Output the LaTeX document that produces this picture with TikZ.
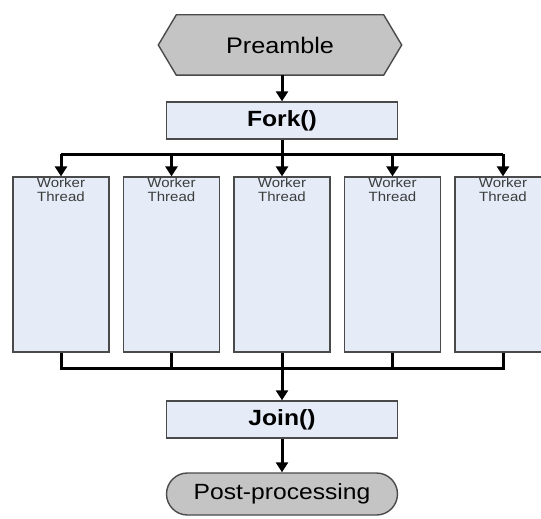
\documentclass[tikz,border=0pt]{standalone}
\usepackage{fontspec}
\setmainfont[FakeStretch=1.12]{Liberation Sans}
\usetikzlibrary{arrows.meta,backgrounds,shapes.misc}
\definecolor{boxfill}{HTML}{E5ECF8}
\definecolor{grayfill}{HTML}{C4C4C4}
\definecolor{edge}{HTML}{4A4A4A}
\definecolor{wtext}{HTML}{3C3C3C}
\tikzset{
  conn/.style={line width=3pt,draw=black},
  arr/.style={conn,-{Triangle[width=12pt,length=10pt]}},
  flowbox/.style={draw=edge,line width=1.4pt,fill=boxfill,minimum width=231pt,minimum height=37pt,inner sep=0pt,font=\bfseries\fontsize{22}{24}\selectfont},
  worker/.style={draw=edge,line width=1.2pt,fill=boxfill,minimum width=96pt,minimum height=175pt,inner sep=0pt},
  wlabel/.style={font=\fontsize{13.4}{14}\selectfont,text=wtext,align=center,anchor=north,inner sep=0pt},
  term/.style={draw=edge,line width=1.4pt,fill=grayfill,rounded rectangle,minimum width=231pt,minimum height=42pt,inner sep=0pt,font=\fontsize{22}{24}\selectfont}
}
\begin{document}
\begin{tikzpicture}[x=1pt,y=-1pt]
\useasboundingbox (0,0) rectangle (541,519);
% Preamble hexagon
\node[minimum width=243pt,minimum height=60pt,inner sep=0pt,font=\fontsize{22.5}{24}\selectfont] (pre) at (280,45) {Preamble};
\begin{scope}[on background layer]
\draw[draw=edge,line width=1.4pt,fill=grayfill] (pre.west) -- ([xshift=18pt]pre.north west) -- ([xshift=-18pt]pre.north east) -- (pre.east) -- ([xshift=-18pt]pre.south east) -- ([xshift=18pt]pre.south west) -- cycle;
\end{scope}
\node[flowbox] (fork) at (282,120.5) {Fork()};
\draw[arr] (pre.south -| fork.north) -- (fork.north);
% workers
\foreach \i/\x in {1/61,2/171.5,3/282,4/392.5,5/503}{
  \node[worker] (w\i) at (\x,264.5) {};
  \node[wlabel] (wl\i) at ([yshift=-1.5pt]w\i.north) {Worker\\Thread};
}
\coordinate (fb) at (282,154);
\draw[conn] (fork.south) -- (fb);
\draw[conn] (w1.north |- fb) -- (w5.north |- fb);
\foreach \i in {1,...,5}{
  \draw[arr] (w\i.north |- fb) -- (w\i.north);
}
\coordinate (jb) at (282,368);
\foreach \i in {1,...,5}{
  \draw[conn] (w\i.south) -- (w\i.south |- jb);
}
\draw[conn,line cap=rect] (w1.south |- jb) -- (w5.south |- jb);
\node[flowbox] (join) at (282,419.5) {Join()};
\draw[arr] (jb) -- (join.north);
\node[term] (post) at (282,494) {Post-processing};
\draw[arr] (join.south) -- (post.north);
\end{tikzpicture}
\end{document}
